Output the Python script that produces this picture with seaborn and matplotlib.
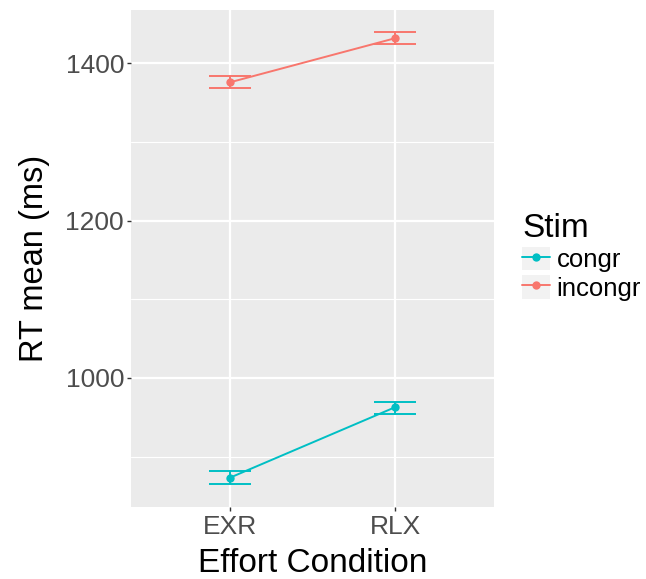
import matplotlib
matplotlib.use("Agg")
import matplotlib.pyplot as plt
import seaborn as sns
import pandas as pd
from matplotlib.lines import Line2D
from matplotlib.patches import Rectangle
from matplotlib.legend_handler import HandlerTuple

# ---- data ----
conditions = ["EXR", "RLX"]
stim_levels = ["congr", "incongr"]
congr_mean = [873.3, 962.8]
congr_lo = [865.7, 954.6]
congr_hi = [881.4, 969.9]
incongr_mean = [1375.8, 1431.8]
incongr_lo = [1368.2, 1424.1]
incongr_hi = [1383.9, 1439.4]
y_ticks = [1000, 1200, 1400]
y_minor = [900, 1100, 1300]

colors = {"congr": "#00BFC4", "incongr": "#F8766D"}

df = pd.DataFrame({
    "cond": conditions * 2,
    "stim": ["congr"] * 2 + ["incongr"] * 2,
    "rt": congr_mean + incongr_mean,
    "lo": congr_lo + incongr_lo,
    "hi": congr_hi + incongr_hi,
})
df["x"] = df["cond"].map({c: i for i, c in enumerate(conditions)})

sns.set_theme(style="darkgrid")
plt.rcParams["font.family"] = ["Liberation Sans", "DejaVu Sans"]
plt.rcParams["text.color"] = "black"

fig = plt.figure(figsize=(6.46, 5.79), dpi=100)
ax = fig.add_axes([131 / 646, 1 - 506.7 / 579, (494 - 131) / 646, (506.7 - 10) / 579])
ax.set_facecolor("#EBEBEB")

for s in stim_levels:
    sub = df[df["stim"] == s]
    c = colors[s]
    ax.errorbar(sub["x"], sub["rt"],
                yerr=[sub["rt"] - sub["lo"], sub["hi"] - sub["rt"]],
                fmt="none", ecolor=c, elinewidth=1.4, capsize=14.9,
                capthick=1.4, zorder=3)
    sns.lineplot(data=sub, x="x", y="rt", color=c, lw=1.4, marker="o",
                 markersize=6, markeredgewidth=0, ax=ax, legend=False,
                 zorder=4, errorbar=None)

ax.set_xlim(-0.6, 1.6)
ax.set_ylim(836.4, 1467.7)
ax.set_xticks(range(len(conditions)))
ax.set_xticklabels(conditions)
ax.set_yticks(y_ticks)
ax.set_yticks(y_minor, minor=True)
ax.grid(which="major", color="white", lw=1.6)
ax.grid(which="minor", axis="y", color="white", lw=0.8)
ax.set_axisbelow(True)
for sp in ax.spines.values():
    sp.set_visible(False)
ax.tick_params(axis="both", which="major", length=3, width=1, color="#333333",
               labelsize=19, labelcolor="#4D4D4D", pad=2, left=True, bottom=True)
ax.tick_params(axis="x", which="major", pad=3)
ax.tick_params(axis="y", which="minor", length=0)

ax.set_xlabel("Effort Condition", fontsize=24, color="black", labelpad=6.5)
ax.set_ylabel("RT mean (ms)", fontsize=23.5, color="black", labelpad=11)

handles = []
for s in stim_levels:
    rect = Rectangle((0, 0), 1, 1, facecolor="#F2F2F2", edgecolor="none")
    ln = Line2D([], [], color=colors[s], lw=1.4, marker="o", markersize=6,
                markeredgewidth=0)
    handles.append((rect, ln))
leg = fig.legend(handles, stim_levels, title="Stim",
                 handler_map={tuple: HandlerTuple(ndivide=1)},
                 loc="upper left", bbox_to_anchor=(522 / 646, 1 - 213 / 579),
                 frameon=False, fontsize=18.5, title_fontsize=24,
                 handlelength=1.1, handleheight=1.05, handletextpad=0.25,
                 labelspacing=0.1, borderaxespad=0, borderpad=0)
leg._legend_box.align = "left"
for t in leg.get_texts():
    t.set_color("black")
leg.get_title().set_color("black")

fig.savefig("out.png", dpi=100)
